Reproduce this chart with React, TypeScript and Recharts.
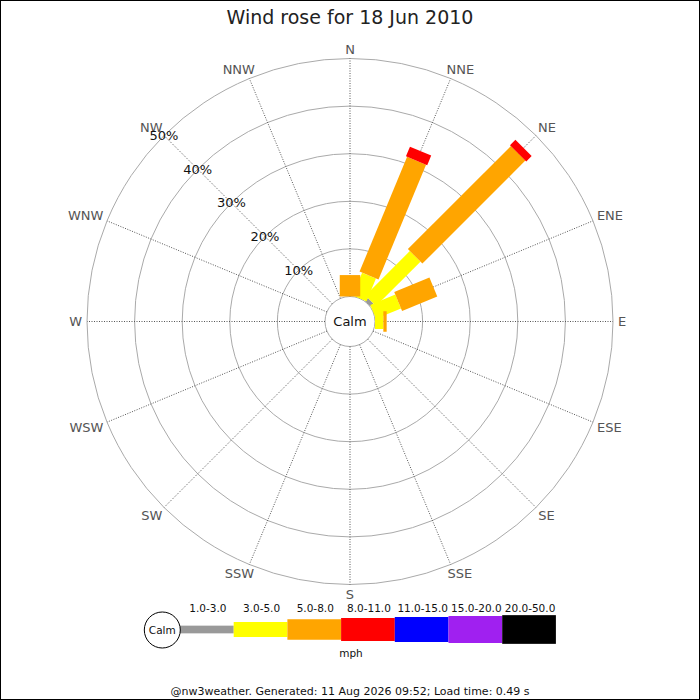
import { Legend, PolarAngleAxis, PolarGrid, PolarRadiusAxis, RadialBar, RadialBarChart } from 'recharts'

const FONT = '"DejaVu Sans", Verdana, sans-serif'
const RAD = Math.PI / 180

const DIRECTIONS = ['N', 'NNE', 'NE', 'ENE', 'E', 'ESE', 'SE', 'SSE', 'S', 'SSW', 'SW', 'WSW', 'W', 'WNW', 'NW', 'NNW']
const SPEED_BINS = ['1.0-3.0', '3.0-5.0', '5.0-8.0', '8.0-11.0', '11.0-15.0', '15.0-20.0', '20.0-50.0']

// percent of the day per direction, one array per speed band (mph)
const SPEED_1_3 = [0, 0, 0.9, 0, 0, 0, 0, 0, 0, 0, 0, 0, 0, 0, 0, 0]
const SPEED_3_5 = [0, 5.2, 13.2, 5.7, 1.75, 0, 0, 0, 0, 0, 0, 0, 0, 0, 0, 0]
const SPEED_5_8 = [4.5, 26.1, 30.6, 8.0, 0.7, 0, 0, 0, 0, 0, 0, 0, 0, 0, 0, 0]
const SPEED_8_11 = [0, 2.2, 1.6, 0, 0, 0, 0, 0, 0, 0, 0, 0, 0, 0, 0, 0]
const SPEED_11_15 = [0, 0, 0, 0, 0, 0, 0, 0, 0, 0, 0, 0, 0, 0, 0, 0]
const SPEED_15_20 = [0, 0, 0, 0, 0, 0, 0, 0, 0, 0, 0, 0, 0, 0, 0, 0]
const SPEED_20_50 = [0, 0, 0, 0, 0, 0, 0, 0, 0, 0, 0, 0, 0, 0, 0, 0]

const PCT_TICKS = [0, 10, 20, 30, 40, 50]

const SERIES = [SPEED_1_3, SPEED_3_5, SPEED_5_8, SPEED_8_11, SPEED_11_15, SPEED_15_20, SPEED_20_50]
const BAND_COLORS = ['#999999', '#ffff00', '#ffa500', '#ff0000', '#0000ff', '#a020f0', '#000000']
const BAND_WIDTHS = [7.7, 15, 20.5, 23, 25, 27, 28.7]

// recharts puts the angle ticks on the band edge, the sectors in the band middle
const HALF_BAND = 360 / DIRECTIONS.length / 2

const rows = DIRECTIONS.map((dir, i) => {
  const row: Record<string, number | string> = { dir }
  SERIES.forEach((s, k) => {
    row['b' + k] = s[i]
  })
  return row
})

// rough DejaVu Sans advance widths, in em
const CHAR_EM: Record<string, number> = { N: 0.748, E: 0.632, S: 0.635, W: 0.989 }

function DirTick(props: any) {
  const { x, y, payload } = props
  const a = payload.coordinate * RAD
  const c = Math.cos(a)
  const s = Math.sin(a)
  const label = String(payload.value)
  const w = label.split('').reduce((t, ch) => t + (CHAR_EM[ch] ?? 0.7) * 13, 0)
  const sc = Math.abs(c) < 1e-6 ? 0 : Math.sign(c)
  const ss = Math.abs(s) < 1e-6 ? 0 : Math.sign(s)
  return (
    <text
      x={x + (c * w) / 2 + 4 * sc}
      y={y - s * 5.5 - 3 * ss}
      textAnchor="middle"
      dominantBaseline="central"
      fontSize={13}
      fontFamily={FONT}
      fill="#555"
    >
      {label}
    </text>
  )
}

function PctTick(props: any) {
  const { x, y, payload } = props
  if (payload.value === 0) return <g />
  return (
    <text x={x} y={y} textAnchor="middle" dominantBaseline="central" fontSize={13} fontFamily={FONT} fill="#111">
      {payload.value + '%'}
    </text>
  )
}

// straight bar of constant width along the direction of the sector
function barShape(width: number) {
  return (props: any) => {
    const { cx, cy, innerRadius, outerRadius, startAngle, endAngle, fill } = props
    if (!(outerRadius > innerRadius)) return <g />
    const a = (-((startAngle + endAngle) / 2 - HALF_BAND)) * RAD
    const ux = Math.cos(a)
    const uy = Math.sin(a)
    const nx = -uy * (width / 2)
    const ny = ux * (width / 2)
    const ix = cx + innerRadius * ux
    const iy = cy + innerRadius * uy
    const ox = cx + outerRadius * ux
    const oy = cy + outerRadius * uy
    const pts = [
      [ix + nx, iy + ny],
      [ox + nx, oy + ny],
      [ox - nx, oy - ny],
      [ix - nx, iy - ny],
    ]
    return <polygon points={pts.map((p) => p.join(',')).join(' ')} fill={fill} />
  }
}

function SpeedLegend() {
  const segW = 53.7
  const x0 = 40
  return (
    <svg width={430} height={70} style={{ fontFamily: FONT, display: 'block' }}>
      {SPEED_BINS.map((label, k) => (
        <g key={label}>
          <rect
            x={x0 + k * segW}
            y={33.5 - BAND_WIDTHS[k] / 2}
            width={segW}
            height={BAND_WIDTHS[k]}
            fill={BAND_COLORS[k]}
          />
          <text x={x0 + k * segW + segW / 2 + 1} y={11.5} textAnchor="middle" dominantBaseline="central" fontSize={10.5} fill="#111">
            {label}
          </text>
        </g>
      ))}
      <circle cx={22.3} cy={34} r={18} fill="#fff" stroke="#000" />
      <text x={22.3} y={34} textAnchor="middle" dominantBaseline="central" fontSize={10.5} fill="#111">
        Calm
      </text>
      <text x={211} y={57} textAnchor="middle" dominantBaseline="central" fontSize={10.5} fill="#111">
        mph
      </text>
    </svg>
  )
}

export default function App() {
  return (
    <div
      style={{
        position: 'absolute',
        left: 0,
        top: 0,
        width: 700,
        height: 700,
        background: '#fff',
        boxShadow: 'inset 0 0 0 1px #000',
        fontFamily: FONT,
      }}
    >
      <div style={{ position: 'absolute', left: 0, top: 4, width: 700, textAlign: 'center', fontSize: 19, lineHeight: '26px', color: '#222' }}>
        Wind rose for 18 Jun 2010
      </div>
      <RadialBarChart
        width={700}
        height={700}
        data={rows}
        layout="centric"
        cx={350}
        cy={321.5}
        innerRadius={25}
        outerRadius={263}
        startAngle={90}
        endAngle={-270}
        margin={{ top: 0, right: 0, bottom: 0, left: 0 }}
      >
        <PolarGrid gridType="circle" radialLines={false} stroke="#aaaaaa" />
        <PolarGrid gridType="circle" polarRadius={[]} stroke="#555" strokeDasharray="1 1.5" />
        <PolarAngleAxis dataKey="dir" type="category" axisLine={false} tickLine={false} tickSize={1} tick={<DirTick />} />
        <PolarRadiusAxis
          type="number"
          domain={[0, 50]}
          ticks={PCT_TICKS}
          angle={135}
          axisLine={false}
          tickLine={false}
          tick={<PctTick />}
          label={{ value: 'Calm', position: 'center', fill: '#111', fontSize: 13, fontFamily: FONT }}
        />
        {SERIES.map((_, k) => (
          <RadialBar
            key={k}
            dataKey={'b' + k}
            name={SPEED_BINS[k]}
            stackId="wind"
            fill={BAND_COLORS[k]}
            shape={barShape(BAND_WIDTHS[k])}
            isAnimationActive={false}
          />
        ))}
        <Legend content={() => <SpeedLegend />} wrapperStyle={{ position: 'absolute', left: 140, top: 596, width: 430, height: 70 }} />
      </RadialBarChart>
      <div style={{ position: 'absolute', left: 0, top: 685, width: 700, textAlign: 'center', fontSize: 11, lineHeight: '14px', color: '#111' }}>
        @nw3weather. Generated: 11 Aug 2026 09:52; Load time: 0.49 s
      </div>
    </div>
  )
}
